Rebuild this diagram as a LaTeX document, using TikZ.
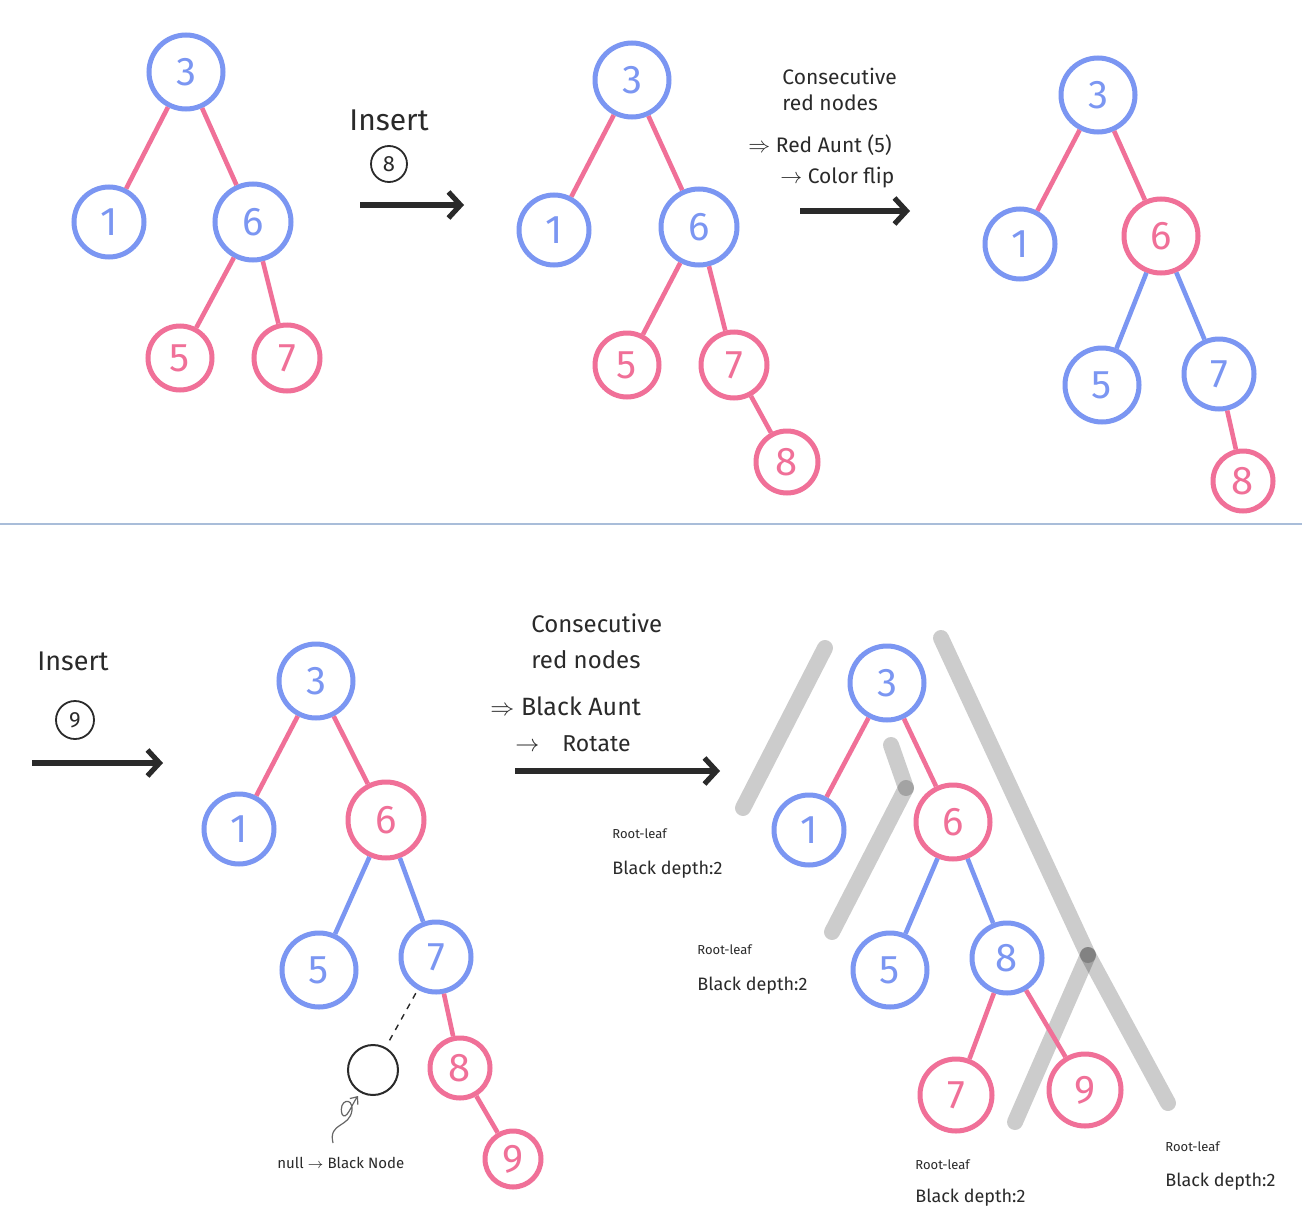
\documentclass[tikz,border=0pt]{standalone}
\usepackage{fontspec}
\setmainfont{Fira Sans}
\usetikzlibrary{arrows.meta}
\definecolor{cblue}{HTML}{7B96F2}
\definecolor{cpink}{HTML}{F07098}
\definecolor{ink}{HTML}{2A2A2A}
\definecolor{sepc}{HTML}{A9BDD9}
\begin{document}
\begin{tikzpicture}[x=0.5pt,y=-0.5pt,
  bn/.style={circle, draw=cblue, line width=2.5pt, text=cblue, minimum size=36pt, inner sep=0pt, font=\fontsize{20}{20}\selectfont},
  rn/.style={circle, draw=cpink, line width=2.5pt, text=cpink, minimum size=36pt, inner sep=0pt, font=\fontsize{20}{20}\selectfont},
  nullnode/.style={circle, draw=ink, line width=1pt, minimum size=25pt, inner sep=0pt},
  re/.style={draw=cpink, line width=2.3pt},
  be/.style={draw=cblue, line width=2.3pt},
  bigarrow/.style={draw=ink, line width=2.6pt, -{Straight Barb[length=6pt,width=13pt]}},
  circnum/.style={circle, draw=ink, line width=0.9pt, minimum size=18pt, inner sep=0pt, text=ink, font=\fontsize{11}{11}\selectfont},
  note/.style={text=ink, anchor=west, inner sep=0pt},
  band/.style={draw=black, opacity=0.2, line width=8pt, line cap=round},
  rl/.style={text=ink, anchor=west, inner sep=0pt, font=\fontsize{6.5}{7}\selectfont},
  bd/.style={text=ink, anchor=west, inner sep=0pt, font=\fontsize{9}{10}\selectfont}
]
\useasboundingbox (0,0) rectangle (1302,1226);
\fill[white] (0,0) rectangle (1302,1226);

% ---------- Tree 1 ----------
\node[bn, minimum size=37pt] (a3) at (186,72) {3};
\node[bn, minimum size=35pt] (a1) at (109,222) {1};
\node[bn, minimum size=38pt] (a6) at (253,222) {6};
\node[rn, minimum size=32pt] (a5) at (180,358) {5};
\node[rn, minimum size=33pt] (a7) at (287,358) {7};
\draw[re] (a3) -- (a1);
\draw[re] (a3) -- (a6);
\draw[re] (a6) -- (a5);
\draw[re] (a6) -- (a7);

% Insert 8
\node[note, font=\fontsize{15}{15}\selectfont] (ins1) at (349,120) {Insert};
\node[circnum] (c8) at (389,164) {8};
\coordinate (ar1s) at (360,205);
\coordinate (ar1e) at (464,205);
\draw[bigarrow] (ar1s) -- (ar1e);

% ---------- Tree 2 ----------
\node[bn, minimum size=37pt] (b3) at (632,80) {3};
\node[bn, minimum size=35pt] (b1) at (554,230) {1};
\node[bn, minimum size=38pt] (b6) at (699,227) {6};
\node[rn, minimum size=32pt] (b5) at (627,365) {5};
\node[rn, minimum size=33pt] (b7) at (734,365) {7};
\node[rn, minimum size=31pt] (b8) at (787,462) {8};
\draw[re] (b3) -- (b1);
\draw[re] (b3) -- (b6);
\draw[re] (b6) -- (b5);
\draw[re] (b6) -- (b7);
\draw[re] (b7) -- (b8);

% notes top
\node[note, font=\fontsize{10.5}{11}\selectfont] (t1) at (782,76) {Consecutive};
\node[note, font=\fontsize{10.5}{11}\selectfont] (t2) at (782,103) {red nodes};
\node[note, font=\fontsize{10.5}{11}\selectfont] (t3) at (748,145) {$\Rightarrow$ Red Aunt (5)};
\node[note, font=\fontsize{10.5}{11}\selectfont] (t4) at (780,178) {$\rightarrow$ Color flip};
\coordinate (ar2s) at (800,211);
\coordinate (ar2e) at (910,211);
\draw[bigarrow] (ar2s) -- (ar2e);

% ---------- Tree 3 ----------
\node[bn, minimum size=37pt] (c3) at (1098,95) {3};
\node[bn, minimum size=35pt] (c1) at (1020,244) {1};
\node[rn, minimum size=37pt] (c6) at (1161,236) {6};
\node[bn, minimum size=37pt] (c5) at (1102,385) {5};
\node[bn, minimum size=35pt] (c7) at (1219,374) {7};
\node[rn, minimum size=30pt] (c8n) at (1243,481) {8};
\draw[re] (c3) -- (c1);
\draw[re] (c3) -- (c6);
\draw[be] (c6) -- (c5);
\draw[be] (c6) -- (c7);
\draw[re] (c7) -- (c8n);

% separator
\coordinate (sepl) at (0,524);
\coordinate (sepr) at (1302,524);
\draw[sepc, line width=1.1pt] (sepl) -- (sepr);

% ---------- Insert 9 ----------
\node[note, font=\fontsize{13.5}{14}\selectfont] (ins2) at (37,661) {Insert};
\node[circnum, minimum size=19pt] (c9) at (75,720) {9};
\coordinate (ar3s) at (32,763);
\coordinate (ar3e) at (163,763);
\draw[bigarrow] (ar3s) -- (ar3e);

% ---------- Tree 4 ----------
\node[bn, minimum size=37pt] (d3) at (316,681) {3};
\node[bn, minimum size=35pt] (d1) at (239,829) {1};
\node[rn, minimum size=38pt] (d6) at (386,820) {6};
\node[bn, minimum size=37pt] (d5) at (319,970) {5};
\node[bn, minimum size=35pt] (d7) at (436,957) {7};
\node[rn, minimum size=30pt] (d8) at (460,1068) {8};
\node[rn, minimum size=28pt] (d9) at (513,1159) {9};
\node[nullnode] (dnull) at (373,1070) {};
\draw[re] (d3) -- (d1);
\draw[re] (d3) -- (d6);
\draw[be] (d6) -- (d5);
\draw[be] (d6) -- (d7);
\draw[re] (d7) -- (d8);
\draw[re] (d8) -- (d9);
\draw[ink, line width=0.7pt, dashed, shorten >=4pt, shorten <=2pt] (d7) -- (dnull);
\coordinate (cs) at (333,1143);
\coordinate (ce) at (358,1096);
\draw[gray!80!black, line width=0.6pt, -{Straight Barb[length=3pt,width=5pt]}]
  (cs) .. controls (328,1122) and (350,1128) .. (352,1110)
       .. controls (353,1096) and (338,1100) .. (342,1114)
       .. controls (346,1122) and (352,1104) .. (ce);
\node[note, font=\fontsize{7.5}{8}\selectfont] (nulltxt) at (277,1163) {null $\rightarrow$ Black Node};

% notes bottom
\node[note, font=\fontsize{12}{12}\selectfont] (u1) at (531,623) {Consecutive};
\node[note, font=\fontsize{12}{12}\selectfont] (u2) at (531,660) {red nodes};
\node[note, font=\fontsize{12.5}{13}\selectfont] (u3) at (490,706) {$\Rightarrow$ Black Aunt};
\node[note, font=\fontsize{11.5}{12}\selectfont] (u4) at (515,744) {$\rightarrow$\quad Rotate};
\coordinate (ar4s) at (515,771);
\coordinate (ar4e) at (720,771);
\draw[bigarrow] (ar4s) -- (ar4e);

% ---------- gray bands ----------
\draw[band] (825,648) -- (743,808);
\draw[band] (891,745) -- (906,788);
\draw[band] (906,788) -- (832,932);
\draw[band] (941,638) -- (1088,955);
\draw[band] (1088,955) -- (1168,1103);
\draw[band] (1088,955) -- (1015,1122);

% ---------- Tree 5 ----------
\node[bn, minimum size=37pt] (e3) at (887,683) {3};
\node[bn, minimum size=35pt] (e1) at (809,830) {1};
\node[rn, minimum size=37pt] (e6) at (953,822) {6};
\node[bn, minimum size=37pt] (e5) at (890,970) {5};
\node[bn, minimum size=35pt] (e8) at (1007,958) {8};
\node[rn, minimum size=36pt] (e7) at (956,1095) {7};
\node[rn, minimum size=36pt] (e9) at (1085,1090) {9};
\draw[re] (e3) -- (e1);
\draw[re] (e3) -- (e6);
\draw[be] (e6) -- (e5);
\draw[be] (e6) -- (e8);
\draw[re] (e8) -- (e7);
\draw[re] (e8) -- (e9);

% labels
\node[rl] (r1) at (612,834) {Root-leaf};
\node[bd] (k1) at (612,870) {Black depth:2};
\node[rl] (r2) at (697,950) {Root-leaf};
\node[bd] (k2) at (697,986) {Black depth:2};
\node[rl] (r3) at (915,1165) {Root-leaf};
\node[bd] (k3) at (915,1198) {Black depth:2};
\node[rl] (r4) at (1165,1147) {Root-leaf};
\node[bd] (k4) at (1165,1182) {Black depth:2};
\end{tikzpicture}
\end{document}
